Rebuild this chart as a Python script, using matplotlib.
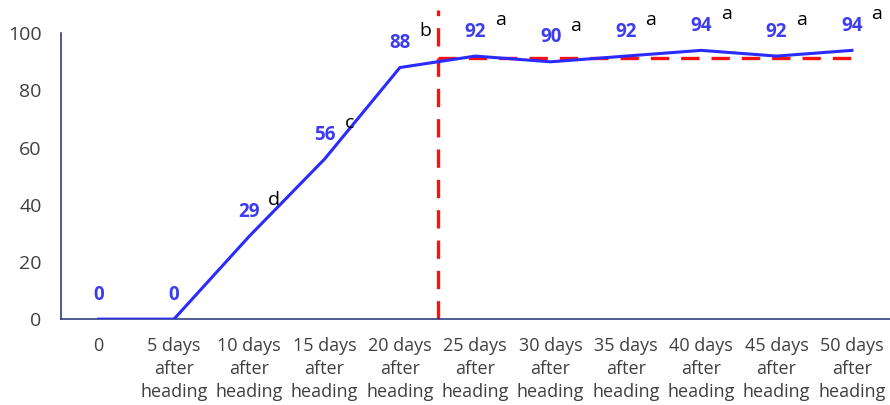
import matplotlib
matplotlib.use('Agg')
import matplotlib.pyplot as plt

# data
categories = ['0'] + ['{0} days\nafter\nheading'.format(d) for d in range(5, 55, 5)]
germination = [0, 0, 29, 56, 88, 92, 90, 92, 94, 92, 94]
letters = ['', '', 'd', 'c', 'b', 'a', 'a', 'a', 'a', 'a', 'a']
plateau_level = 91.5
split_pos = 4.5

BLUE = '#2b2bff'
LABEL_BLUE = '#3c3cf0'
RED = '#ff1010'
AXIS = '#2f3f7f'
DASH = (0, (5.5, 3.6))

plt.rcParams['font.family'] = ['Open Sans', 'DejaVu Sans']

fig = plt.figure(figsize=(8.9, 4.05), dpi=100)
ax = fig.add_axes([0.0685, 0.212, 0.931, 0.706])

x = list(range(len(categories)))
ax.plot(x, germination, '-', color=BLUE, lw=2.2, solid_joinstyle='miter', zorder=3)

# vertical split and plateau mean line
ax.plot([split_pos, split_pos], [0, 108], color=RED, lw=2.4, ls=DASH, zorder=2, clip_on=False)
ax.plot([split_pos, len(categories) - 0.9], [plateau_level, plateau_level],
        color=RED, lw=2.4, ls=DASH, zorder=2)

# value labels
for xi, v in zip(x, germination):
    ax.annotate(str(v), (xi, v), xytext=(0, 17.5), textcoords='offset points',
                ha='center', va='center', color=LABEL_BLUE, fontsize=13.5, fontweight='bold')

# significance letters
for xi, v, s in zip(x, germination, letters):
    if not s:
        continue
    ax.annotate(s, (xi, v), xytext=(18, 26), textcoords='offset points',
                ha='center', va='center', color='black', fontsize=14)

ax.set_xlim(-0.5, len(categories) - 0.5)
ax.set_ylim(0, 100)
ax.set_yticks(range(0, 101, 20))
ax.set_xticks(x)
ax.set_xticklabels(categories, fontsize=13, color='#404040', linespacing=1.35)
ax.tick_params(axis='y', length=0, pad=14, labelsize=14, labelcolor='#404040')
ax.tick_params(axis='x', length=0, pad=13)

for side in ['top', 'right']:
    ax.spines[side].set_visible(False)
for side in ['left', 'bottom']:
    ax.spines[side].set_color(AXIS)
    ax.spines[side].set_linewidth(1.2)

plt.savefig('out.png', dpi=100)
